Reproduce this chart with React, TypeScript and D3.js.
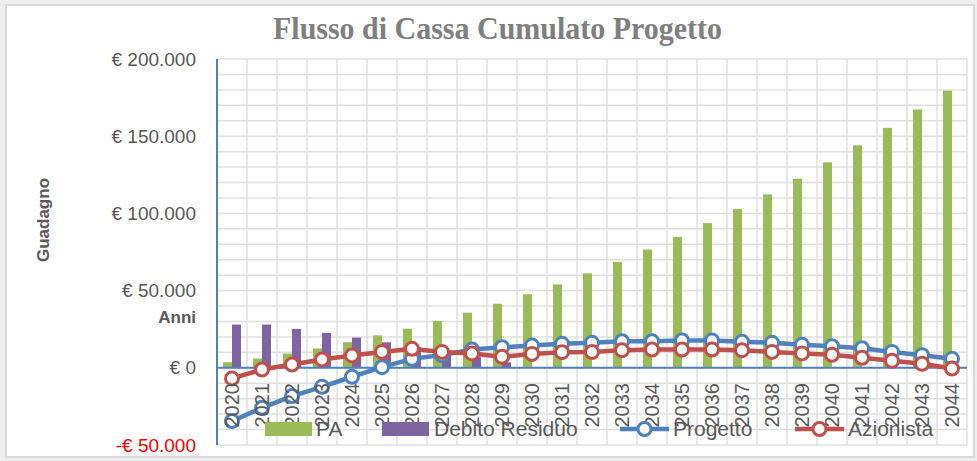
import React, { useRef, useEffect } from 'react';
import * as d3 from 'd3';

// chart data
const years = ['2020', '2021', '2022', '2023', '2024', '2025', '2026', '2027', '2028', '2029', '2030', '2031', '2032',
  '2033', '2034', '2035', '2036', '2037', '2038', '2039', '2040', '2041', '2042', '2043', '2044'];
const pa = [3600, 6000, 9300, 12500, 16600, 21000, 25300, 30300, 35700, 41500, 47600, 54000, 61200,
  68500, 76600, 84800, 93700, 102800, 112300, 122500, 133100, 144100, 155400, 167300, 179500];
const debitoResiduo = [28000, 28000, 25200, 22600, 19600, 16500, 13400, 10200, 6900, 3500, 0, 0, 0,
  0, 0, 0, 0, 0, 0, 0, 0, 0, 0, 0, 0];
const progetto = [-34500, -25900, -18300, -12300, -5800, 400, 5800, 8200, 11800, 13300, 14400, 15500, 16200,
  17200, 17200, 17700, 17700, 16800, 16200, 14900, 14000, 12700, 10300, 8200, 5800];
const azionista = [-6900, -1100, 2100, 5400, 8000, 10300, 12300, 10300, 9300, 7100, 9000, 10100, 10200,
  11400, 11800, 11800, 11800, 11400, 10300, 9300, 8400, 6500, 4500, 2600, -500];
const yTicks = [-50000, 0, 50000, 100000, 150000, 200000];
const yTickLabels = ['-€ 50.000', '€ 0', '€ 50.000', '€ 100.000', '€ 150.000', '€ 200.000'];

const W = 977;
const H = 461;
const FONT = '"Liberation Sans", Arial, sans-serif';
const GREEN = '#9bbb59';
const PURPLE = '#8064a2';
const BLUE = '#4f81bd';
const RED = '#c0504d';
const GRAY = '#595959';

const App: React.FC = () => {
  const svgRef = useRef<SVGSVGElement>(null);

  useEffect(() => {
    if (!svgRef.current) return;
    const svg = d3.select(svgRef.current);
    svg.selectAll('*').remove();

    // background + chart frame
    svg.append('rect').attr('width', W).attr('height', H).attr('fill', '#eeeeee');
    svg.append('rect').attr('x', 6).attr('y', 5).attr('width', 968).attr('height', 452)
      .attr('fill', '#ffffff').attr('stroke', '#d9d9d9').attr('stroke-width', 2);

    const left = 217, right = 967, top = 59, bottom = 445;
    const x = d3.scaleBand().domain(years).range([left, right]).padding(0);
    const y = d3.scaleLinear().domain([-50000, 200000]).range([bottom, top]);
    const inner = d3.scaleBand().domain(['pa', 'debito']).range([0, x.bandwidth()])
      .paddingInner(0).paddingOuter(0.667);
    const cx = (d: string) => x(d)! + x.bandwidth() / 2;

    // gridlines
    const grid = svg.append('g');
    grid.selectAll('line.h')
      .data(d3.range(-50000, 200001, 10000))
      .enter().append('line')
      .attr('x1', left).attr('x2', right)
      .attr('y1', d => y(d)).attr('y2', d => y(d))
      .attr('stroke', '#e0e0e0').attr('stroke-width', 1.5);
    grid.selectAll('line.v')
      .data(years.map((d, i) => i + 1))
      .enter().append('line')
      .attr('x1', i => left + i * x.bandwidth()).attr('x2', i => left + i * x.bandwidth())
      .attr('y1', top).attr('y2', bottom)
      .attr('stroke', '#e0e0e0').attr('stroke-width', 1.5);

    // bars
    svg.append('g').selectAll('rect')
      .data(years.map((yr, i) => ({ yr, v: pa[i] })))
      .enter().append('rect')
      .attr('x', d => x(d.yr)! + inner('pa')!)
      .attr('width', inner.bandwidth())
      .attr('y', d => y(d.v))
      .attr('height', d => y(0) - y(d.v))
      .attr('fill', GREEN);
    svg.append('g').selectAll('rect')
      .data(years.map((yr, i) => ({ yr, v: debitoResiduo[i] })))
      .enter().append('rect')
      .attr('x', d => x(d.yr)! + inner('debito')!)
      .attr('width', inner.bandwidth())
      .attr('y', d => y(d.v))
      .attr('height', d => y(0) - y(d.v))
      .attr('fill', PURPLE);

    // axes
    svg.append('line').attr('x1', left).attr('x2', left).attr('y1', top).attr('y2', bottom)
      .attr('stroke', BLUE).attr('stroke-width', 2);
    svg.append('line').attr('x1', left).attr('x2', right).attr('y1', y(0)).attr('y2', y(0))
      .attr('stroke', BLUE).attr('stroke-width', 2);

    // lines with markers
    const drawSeries = (vals: number[], color: string) => {
      const line = d3.line<number>().x((d, i) => cx(years[i])).y(d => y(d));
      svg.append('path').datum(vals).attr('d', line).attr('fill', 'none')
        .attr('stroke', color).attr('stroke-width', 4.5).attr('stroke-linejoin', 'round');
      svg.append('g').selectAll('circle')
        .data(vals).enter().append('circle')
        .attr('cx', (d, i) => cx(years[i])).attr('cy', d => y(d)).attr('r', 6.5)
        .attr('fill', '#ffffff').attr('stroke', color).attr('stroke-width', 3);
    };
    drawSeries(progetto, BLUE);
    drawSeries(azionista, RED);

    // y tick labels
    svg.append('g').selectAll('text')
      .data(yTicks).enter().append('text')
      .attr('x', 196).attr('y', d => y(d)).attr('dy', '0.35em')
      .attr('text-anchor', 'end')
      .style('font-family', FONT).style('font-size', '19px')
      .style('fill', d => (d < 0 ? '#ff0000' : GRAY))
      .text((d, i) => yTickLabels[i]);

    // x tick labels (rotated)
    svg.append('g').selectAll('text')
      .data(years).enter().append('text')
      .attr('transform', d => `translate(${cx(d)},383) rotate(-90)`)
      .attr('dy', '0.35em').attr('text-anchor', 'end')
      .style('font-family', FONT).style('font-size', '20px').style('fill', GRAY)
      .text(d => d);

    // title
    svg.append('text').attr('x', 273).attr('y', 39)
      .attr('textLength', 449).attr('lengthAdjust', 'spacingAndGlyphs')
      .style('font-family', '"Liberation Serif", serif').style('font-weight', 'bold')
      .style('font-size', '31px').style('fill', '#7f7f7f')
      .text('Flusso di Cassa Cumulato Progetto');

    // axis titles
    svg.append('text').attr('transform', 'translate(43,220) rotate(-90)')
      .attr('text-anchor', 'middle').attr('dy', '0.35em')
      .style('font-family', FONT).style('font-weight', 'bold').style('font-size', '17px').style('fill', GRAY)
      .text('Guadagno');
    svg.append('text').attr('x', 196).attr('y', 317).attr('dy', '0.35em').attr('text-anchor', 'end')
      .style('font-family', FONT).style('font-weight', 'bold').style('font-size', '17px').style('fill', GRAY)
      .text('Anni');

    // legend
    const ly = 429;
    const leg = svg.append('g');
    leg.append('rect').attr('x', 265).attr('y', ly - 7).attr('width', 47).attr('height', 14).attr('fill', GREEN);
    leg.append('rect').attr('x', 382).attr('y', ly - 7).attr('width', 47).attr('height', 14).attr('fill', PURPLE);
    [[620, BLUE], [795, RED]].forEach(([lx, c]) => {
      leg.append('line').attr('x1', lx as number).attr('x2', (lx as number) + 49).attr('y1', ly).attr('y2', ly)
        .attr('stroke', c as string).attr('stroke-width', 4.5);
      leg.append('circle').attr('cx', (lx as number) + 24.5).attr('cy', ly).attr('r', 6.5)
        .attr('fill', '#ffffff').attr('stroke', c as string).attr('stroke-width', 3);
    });
    leg.selectAll('text.lg')
      .data([['PA', 316], ['Debito Residuo', 434], ['Progetto', 673], ['Azionista', 848]])
      .enter().append('text')
      .attr('x', d => d[1] as number).attr('y', ly).attr('dy', '0.35em')
      .style('font-family', FONT).style('font-size', '21px').style('fill', GRAY)
      .text(d => d[0] as string);
  }, []);

  return <svg ref={svgRef} width={W} height={H} style={{ position: 'absolute', left: 0, top: 0 }}></svg>;
};

export default App;
